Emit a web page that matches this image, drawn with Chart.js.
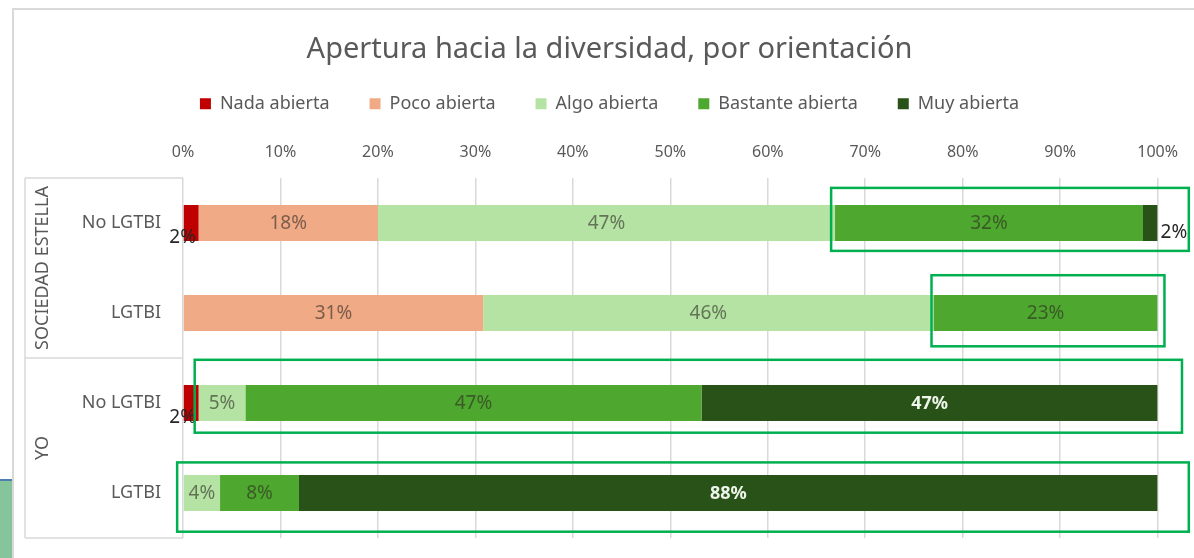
<!DOCTYPE html>
<html>
<head>
<meta charset="utf-8">
<script src="https://cdn.jsdelivr.net/npm/chart.js@4/dist/chart.umd.min.js"></script>
<style>
  body { margin: 0; background: #fff; }
  #wrap { width: 1194px; height: 558px; position: relative; }
</style>
</head>
<body>
<div id="wrap"><canvas id="aperturaChart" width="1194" height="558"></canvas></div>
<script>
// categories (two groups of two rows)
const rowLabels = ["No LGTBI", "LGTBI", "No LGTBI", "LGTBI"];
const groupLabels = ["SOCIEDAD ESTELLA", "YO"];

// series, % of each row
const nadaAbierta = [1.6, 0, 1.6, 0];
const pocoAbierta = [18.4, 30.8, 0, 0];
const algoAbierta = [46.9, 46.2, 4.8, 3.8];
const bastanteAbierta = [31.6, 23.0, 46.8, 8.1];
const muyAbierta = [1.5, 0, 46.8, 88.1];

const seriesNames = ["Nada abierta", "Poco abierta", "Algo abierta", "Bastante abierta", "Muy abierta"];
const seriesColors = ["#C00000", "#F0AA85", "#B4E3A3", "#4EA72E", "#295218"];

const xTicks = [0, 10, 20, 30, 40, 50, 60, 70, 80, 90, 100];

// highlighted rows (green boxes): row, from %, to %
const boxRows = [0, 1, 2, 3];
const boxFrom = [66.5, 76.8, 1.2, -0.6];
const boxTo = [103.2, 100.7, 102.5, 103.2];

const FONT = "'Noto Sans', 'Liberation Sans', Arial, sans-serif";

const decorations = {
  id: "decorations",
  beforeDraw(chart) {
    const { ctx } = chart;
    ctx.save();
    // slide frame and corner
    ctx.fillStyle = "#d9d9d9";
    ctx.fillRect(12, 8, 2, 550);
    ctx.fillRect(12, 8, 1182, 2);
    ctx.fillStyle = "#86c59c";
    ctx.fillRect(0, 481, 12, 77);
    ctx.fillStyle = "#4f7fb0";
    ctx.fillRect(0, 479, 12, 2);
    ctx.restore();
  },
  afterDraw(chart) {
    const { ctx, chartArea, scales } = chart;
    const y = scales.y;
    const x = scales.x;
    ctx.save();
    // group brackets
    const left = 25;
    const mid = (y.getPixelForValue(1) + y.getPixelForValue(2)) / 2;
    ctx.strokeStyle = "#d9d9d9";
    ctx.lineWidth = 1.5;
    ctx.beginPath();
    ctx.moveTo(left, chartArea.top);
    ctx.lineTo(left, chartArea.bottom);
    [chartArea.top, mid, chartArea.bottom].forEach((yy) => {
      ctx.moveTo(left, yy);
      ctx.lineTo(chartArea.left, yy);
    });
    ctx.stroke();

    ctx.fillStyle = "#595959";
    ctx.font = "18px " + FONT;
    ctx.textAlign = "center";
    ctx.textBaseline = "middle";
    [[chartArea.top, mid], [mid, chartArea.bottom]].forEach((r, i) => {
      ctx.save();
      ctx.translate(43, (r[0] + r[1]) / 2);
      ctx.rotate(-Math.PI / 2);
      ctx.fillText(groupLabels[i], 0, 0);
      ctx.restore();
    });

    // green highlight boxes
    const topOff = [-0.39, -0.42, -0.48, -0.34];
    const botOff = [0.31, 0.37, 0.33, 0.43];
    ctx.strokeStyle = "#00B050";
    ctx.lineWidth = 2.5;
    boxRows.forEach((row, i) => {
      const x0 = x.getPixelForValue(boxFrom[i]);
      const x1 = x.getPixelForValue(boxTo[i]);
      const y0 = y.getPixelForValue(row + topOff[i]);
      const y1 = y.getPixelForValue(row + botOff[i]);
      ctx.strokeRect(x0, y0, x1 - x0, y1 - y0);
    });
    ctx.restore();
  },
};

const barLabels = {
  id: "barLabels",
  afterDatasetsDraw(chart) {
    const { ctx } = chart;
    ctx.save();
    ctx.textBaseline = "middle";
    chart.data.datasets.forEach((ds, di) => {
      chart.getDatasetMeta(di).data.forEach((bar, i) => {
        const v = ds.data[i];
        if (!v) return;
        const txt = Math.round(v) + "%";
        const w = Math.abs(bar.x - bar.base);
        ctx.font = "19px " + FONT;
        if (w < 25) {
          ctx.fillStyle = "#262626";
          if (di === 0) {
            ctx.textAlign = "center";
            ctx.fillText(txt, bar.x - 16, bar.y + 15);
          } else {
            ctx.textAlign = "left";
            ctx.fillText(txt, bar.x + 3, bar.y + 10);
          }
          return;
        }
        ctx.textAlign = "center";
        if (di === 4) {
          ctx.fillStyle = "#eef5ea";
          ctx.font = "bold 18px " + FONT;
        } else {
          ctx.fillStyle = "rgba(45,40,35,0.6)";
        }
        ctx.fillText(txt, (bar.x + bar.base) / 2, bar.y + 1);
      });
    });
    ctx.restore();
  },
};

const seriesData = [nadaAbierta, pocoAbierta, algoAbierta, bastanteAbierta, muyAbierta];

new Chart(document.getElementById("aperturaChart"), {
  type: "bar",
  data: {
    labels: rowLabels,
    datasets: seriesNames.map((name, i) => ({
      label: name,
      data: seriesData[i],
      backgroundColor: seriesColors[i],
      categoryPercentage: 0.8,
      barPercentage: 0.5,
    })),
  },
  plugins: [decorations, barLabels],
  options: {
    indexAxis: "y",
    responsive: false,
    animation: false,
    layout: { padding: { left: 60, right: 35, top: 0, bottom: 20 } },
    plugins: {
      title: {
        display: true,
        text: "Apertura hacia la diversidad, por orientación",
        color: "#595959",
        font: { family: FONT, size: 29, weight: "normal" },
        padding: { top: 32, bottom: -12 },
      },
      legend: {
        position: "top",
        labels: {
          color: "#595959",
          font: { family: FONT, size: 18 },
          boxWidth: 11,
          boxHeight: 11,
          padding: 40,
        },
      },
      tooltip: { enabled: false },
    },
    scales: {
      x: {
        position: "top",
        stacked: true,
        min: 0,
        max: 100,
        afterBuildTicks: (scale) => {
          scale.ticks = xTicks.map((v) => ({ value: v }));
        },
        afterFit: (scale) => {
          scale.height += 4;
        },
        ticks: {
          color: "#595959",
          font: { family: FONT, size: 16 },
          padding: 16,
          callback: (v) => v + "%",
        },
        grid: { color: "#d9d9d9", lineWidth: 1.5, drawTicks: false },
        border: { display: false },
      },
      y: {
        stacked: true,
        afterFit: (scale) => {
          scale.width = 123;
          scale.paddingTop = 0;
          scale.paddingBottom = 0;
        },
        ticks: {
          color: "#595959",
          font: { family: FONT, size: 18 },
          padding: 22,
        },
        grid: { display: false, drawTicks: false },
        border: { display: false },
      },
    },
  },
});
</script>
</body>
</html>
